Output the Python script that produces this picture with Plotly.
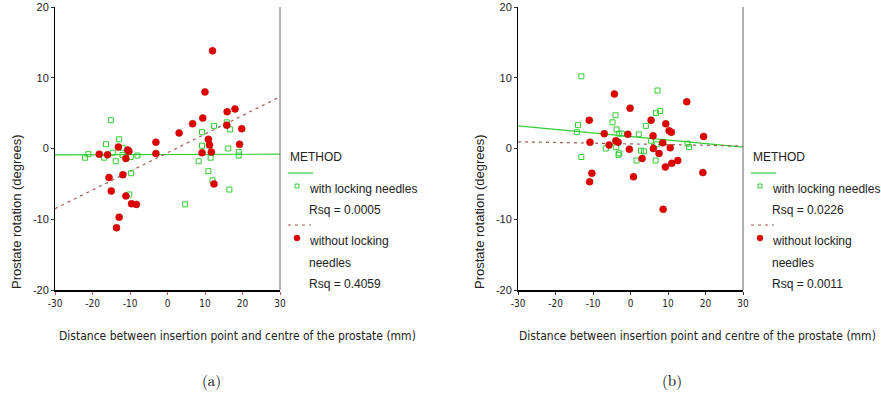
import plotly.graph_objects as go

# ---------------- data ----------------
a_with_x = [-22.0, -21.1, -16.4, -16.9, -15.1, -14.6, -13.8, -12.9, -12.0, -12.0, -9.8, -9.7, -10.2, -8.0,
            4.7, 8.3, 9.2, 9.2, 10.9, 11.5, 12.0, 12.4, 16.2, 16.5, 16.7, 19.0, 19.0, 15.8]
a_with_y = [-1.3, -0.8, 0.6, -1.3, 4.0, -0.6, -1.8, 1.3, 0.1, -0.9, -1.2, -3.5, -6.5, -1.0,
            -7.9, -1.8, 2.3, 0.4, -3.2, -1.3, -4.5, 3.2, 0.0, -5.8, 2.7, -0.5, -1.0, 3.7]
a_without_x = [-18.2, -16.0, -15.6, -15.0, -13.1, -12.9, -13.6, -11.9, -11.1, -11.1, -10.6, -10.3, -9.6, -8.3,
               -3.1, -3.1, 3.1, 6.7, 9.4, 10.0, 9.2, 10.9, 11.2, 11.7, 12.0, 12.4, 15.9, 15.8, 18.0, 19.8, 19.2]
a_without_y = [-0.8, -0.9, -4.1, -6.0, 0.2, -9.7, -11.2, -3.7, -6.7, -1.4, -0.2, -0.4, -7.8, -7.9,
               0.9, -0.7, 2.2, 3.5, 4.3, 8.0, -0.6, 1.3, 0.5, -0.5, 13.8, -5.0, 5.2, 3.3, 5.6, 2.8, 0.6]

b_with_x = [-13.1, -14.0, -14.3, -13.1, -6.6, -4.8, -4.0, -3.7, -3.0, -2.3, -3.8, -3.2, -3.0,
            1.6, 2.2, 2.8, 3.6, 4.1, 5.5, 6.8, 7.2, 7.9, 6.7, 7.0, 15.2, 15.6]
b_with_y = [10.2, 3.3, 2.3, -1.2, 0.0, 3.7, 4.7, 2.7, 2.1, 2.1, 0.2, -0.9, -0.7,
            -1.7, 2.0, -0.3, -0.4, 3.2, 1.1, 5.0, 8.2, 5.3, -1.7, 0.6, 0.7, 0.2]
b_without_x = [-11.0, -10.8, -10.3, -10.9, -7.0, -5.7, -4.3, -3.9, -3.3, -0.7, -0.3, -0.1, 0.8, 3.1,
               5.5, 6.0, 6.1, 7.6, 8.6, 9.4, 9.3, 8.7, 10.3, 10.9, 10.6, 11.0, 12.6, 15.0, 19.3, 19.5]
b_without_y = [4.0, 0.9, -3.5, -4.7, 2.1, 0.5, 7.7, 1.1, 0.9, 2.0, -0.1, 5.7, -4.0, -1.4,
               4.0, 1.8, 0.0, -0.7, 0.8, 3.5, -2.6, -8.6, 2.5, 2.3, 0.1, -2.1, -1.7, 6.6, -3.4, 1.7]

fit_x = [-30, 30]
a_fit_with = [-0.9, -0.8]
a_fit_without = [-8.5, 7.3]
b_fit_with = [3.2, 0.2]
b_fit_without = [0.95, 0.35]

x_ticks = [-30, -20, -10, 0, 10, 20, 30]
x_tick_text = ["-30", "-20", "-10", "0", "10", "20", "30"]
y_ticks = [-20, -10, 0, 10, 20]
y_tick_text = ["-20", "-10", "0", "10", "20"]

rsq_a = ["Rsq = 0.0005", "Rsq = 0.4059"]
rsq_b = ["Rsq = 0.0226", "Rsq = 0.0011"]
panel_labels = ["(a)", "(b)"]
x_title = "Distance between insertion point and centre of the prostate (mm)"
y_title = "Prostate rotation (degrees)"

# ---------------- styling ----------------
W, H = 881, 394
GREEN = "#33cc33"
RED = "#e00000"
RED_LINE = "#a05a5a"
TXT = "#222222"
SANS = "Liberation Sans, Arial, sans-serif"
NARROW = "Liberation Sans Narrow, DejaVu Sans Condensed, Arial Narrow, sans-serif"


def px(x):
    return x / W


def py(y):
    return 1 - y / H


fig = go.Figure()

panels = [
    dict(xa="x", ya="y", wx=a_with_x, wy=a_with_y, ox=a_without_x, oy=a_without_y,
         fw=a_fit_with, fo=a_fit_without),
    dict(xa="x2", ya="y2", wx=b_with_x, wy=b_with_y, ox=b_without_x, oy=b_without_y,
         fw=b_fit_with, fo=b_fit_without),
]

for p in panels:
    fig.add_trace(go.Scatter(x=fit_x, y=p["fw"], mode="lines", xaxis=p["xa"], yaxis=p["ya"],
                             line=dict(color=GREEN, width=1.2), showlegend=False, hoverinfo="skip"))
    fig.add_trace(go.Scatter(x=fit_x, y=p["fo"], mode="lines", xaxis=p["xa"], yaxis=p["ya"],
                             line=dict(color=RED_LINE, width=1.2, dash="3px,4px"), showlegend=False,
                             hoverinfo="skip"))
    fig.add_trace(go.Scatter(x=p["wx"], y=p["wy"], mode="markers", xaxis=p["xa"], yaxis=p["ya"],
                             marker=dict(symbol="square-open", size=5, color=GREEN, line=dict(width=1)),
                             showlegend=False))
    fig.add_trace(go.Scatter(x=p["ox"], y=p["oy"], mode="markers", xaxis=p["xa"], yaxis=p["ya"],
                             marker=dict(symbol="circle", size=7, color=RED,
                                         line=dict(width=0.5, color="#b00000")),
                             showlegend=False))

dom_y = [py(290), py(7)]
dom_a = [px(55), px(280)]
dom_b = [px(518), px(743)]

xaxis_common = dict(range=[-30, 30], tickvals=x_ticks, ticktext=x_tick_text, showgrid=False,
                    zeroline=False, automargin=False,
                    showline=True, linecolor="black", ticks="outside", ticklen=3,
                    tickfont=dict(family=NARROW, size=10, color=TXT), fixedrange=True)
yaxis_common = dict(range=[-20, 20], tickvals=y_ticks, ticktext=y_tick_text, showgrid=False,
                    zeroline=False, automargin=False,
                    showline=True, linecolor="black", linewidth=1, ticks="outside", ticklen=3,
                    tickcolor="#333", tickfont=dict(family=SANS, size=11, color=TXT), fixedrange=True)

fig.update_layout(
    width=W, height=H, margin=dict(l=0, r=0, t=0, b=0, autoexpand=False),
    paper_bgcolor="white", plot_bgcolor="white", showlegend=False,
    xaxis=dict(domain=dom_a, anchor="y", linewidth=1.5, tickcolor="#cc5555", **xaxis_common),
    yaxis=dict(domain=dom_y, anchor="x", **yaxis_common),
    xaxis2=dict(domain=dom_b, anchor="y2", linewidth=2, tickcolor="#333", **xaxis_common),
    yaxis2=dict(domain=dom_y, anchor="x2", **yaxis_common),
)

shapes = []
annotations = []

# right-hand frame borders
for xr in (280, 743):
    shapes.append(dict(type="line", xref="paper", yref="paper", x0=px(xr), x1=px(xr),
                       y0=py(7), y1=py(290), line=dict(color="#666666", width=1)))

# titles and panel labels
for title_cx, ylab_x, lab_x, lab in [(237, 17, 211, panel_labels[0]),
                                      (697, 480, 672, panel_labels[1])]:
    annotations.append(dict(text=x_title, xref="paper", yref="paper", x=px(title_cx), y=py(336),
                            showarrow=False, xanchor="center", yanchor="middle",
                            font=dict(family=NARROW, size=12, color=TXT)))
    annotations.append(dict(text=y_title, xref="paper", yref="paper", x=px(ylab_x), y=py(212),
                            showarrow=False, textangle=-90, xanchor="center", yanchor="middle",
                            font=dict(family=SANS, size=13, color=TXT)))
    annotations.append(dict(text=lab, xref="paper", yref="paper", x=px(lab_x), y=py(379),
                            showarrow=False, xanchor="center", yanchor="middle",
                            font=dict(family="Latin Modern Roman, DejaVu Serif, Liberation Serif, serif",
                                      size=15, color="black")))

# legends
for lx, rsq in [(288, rsq_a), (751, rsq_b)]:
    tx = lx + 19
    annotations.append(dict(text="METHOD", xref="paper", yref="paper", x=px(lx), y=py(157),
                            showarrow=False, xanchor="left", yanchor="middle",
                            font=dict(family=SANS, size=12, color=TXT)))
    shapes.append(dict(type="line", xref="paper", yref="paper", x0=px(lx), x1=px(lx + 25),
                       y0=py(173), y1=py(173), line=dict(color=GREEN, width=1.2)))
    shapes.append(dict(type="rect", xref="paper", yref="paper", x0=px(lx + 7), x1=px(lx + 11),
                       y0=py(188), y1=py(184), line=dict(color=GREEN, width=1), fillcolor="white"))
    for txt, yy in [("with locking needles", 189), (rsq[0], 210)]:
        annotations.append(dict(text=txt, xref="paper", yref="paper", x=px(tx), y=py(yy),
                                showarrow=False, xanchor="left", yanchor="middle",
                                font=dict(family=SANS, size=12, color=TXT)))
    shapes.append(dict(type="line", xref="paper", yref="paper", x0=px(lx), x1=px(lx + 23),
                       y0=py(225), y1=py(225), line=dict(color=RED_LINE, width=1.2, dash="3px,4px")))
    shapes.append(dict(type="circle", xref="paper", yref="paper", x0=px(lx + 6), x1=px(lx + 12),
                       y0=py(241), y1=py(235), line=dict(color="#b00000", width=0.5), fillcolor=RED))
    for txt, yy in [("without locking", 241), ("needles", 263), (rsq[1], 284)]:
        annotations.append(dict(text=txt, xref="paper", yref="paper", x=px(tx), y=py(yy),
                                showarrow=False, xanchor="left", yanchor="middle",
                                font=dict(family=SANS, size=12, color=TXT)))

fig.update_layout(shapes=shapes, annotations=annotations)
fig.write_html("out.html")
